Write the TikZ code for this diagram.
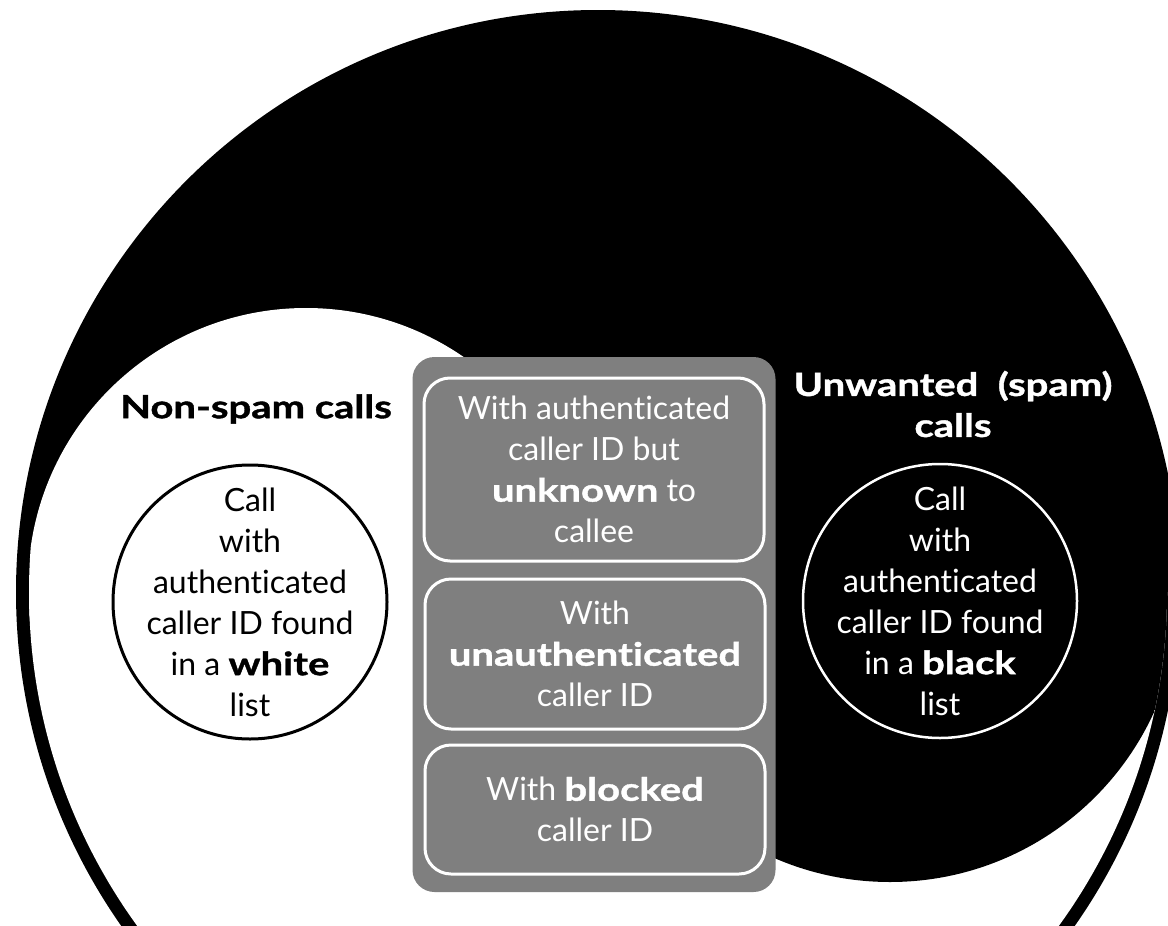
\documentclass[tikz,border=0pt]{standalone}
\usepackage{fontspec}
\setmainfont{Lato}[Ligatures={NoCommon,NoRare},
  BoldFeatures={FakeStretch=1.25, FakeBold=1.2}]
\definecolor{panelgray}{RGB}{127,127,127}
\begin{document}
\begin{tikzpicture}[x=1pt,y=-1pt,
  txt/.style={font=\fontsize{32}{41}\selectfont, align=center, inner sep=0pt},
  heading/.style={font=\fontsize{32}{41}\selectfont\bfseries, align=center, inner sep=0pt},
  panel/.style={fill=panelgray, rounded corners=22pt, minimum width=363pt, inner sep=0pt},
  itembox/.style={txt, draw=white, line width=3pt, text=white, rounded corners=26pt,
                  minimum width=340pt, inner sep=0pt},
  whitelist/.style={circle, draw=black, fill=white, line width=3pt, minimum size=274pt, inner sep=0pt},
  blacklist/.style={circle, draw=white, fill=black, line width=2.5pt, minimum size=274pt, inner sep=0pt}]
\useasboundingbox (0,0) rectangle (1168,926);

% yin-yang background with a thin outer ring
\begin{scope}
  \clip (0,0) rectangle (1168,926);
  \fill[black] (598,592) circle[radius=582pt];
  \begin{scope}
    \clip (598,592) circle[radius=569pt];
    \fill[white] (0,592) rectangle (1200,1200);
    \fill[white] (306,586) circle[radius=278pt];
    \fill[black] (890,592) circle[radius=290pt];
  \end{scope}
\end{scope}

% central panel with the three kinds of unknown calls
\node[panel, minimum height=535pt] (panel) at (594,624.5) {};
\node[itembox, minimum height=183pt] (auth) at (594,469.5)
  {With authenticated\\caller ID but\\\textbf{unknown} to\\callee};
\node[itembox, minimum height=150pt] (unauth) at (595,654)
  {With\\\textbf{unauthenticated}\\caller ID};
\node[itembox, minimum height=129pt] (blocked) at (595,809.5)
  {With \textbf{blocked}\\caller ID};

% white list side
\node[heading] (nonspam) at (256,409) {Non-spam calls};
\node[whitelist] (wl) at (250,602) {};
\node[txt] (wltext) at (wl.center)
  {Call\\with\\authenticated\\caller ID found\\in a \textbf{white}\\list};

% black list side
\node[heading, text=white] (spam) at (953,404) {Unwanted~~(spam)\\calls};
\node[blacklist] (bl) at (940,601) {};
\node[txt, text=white] (bltext) at (bl.center)
  {Call\\with\\authenticated\\caller ID found\\in a \textbf{black}\\list};
\end{tikzpicture}
\end{document}
